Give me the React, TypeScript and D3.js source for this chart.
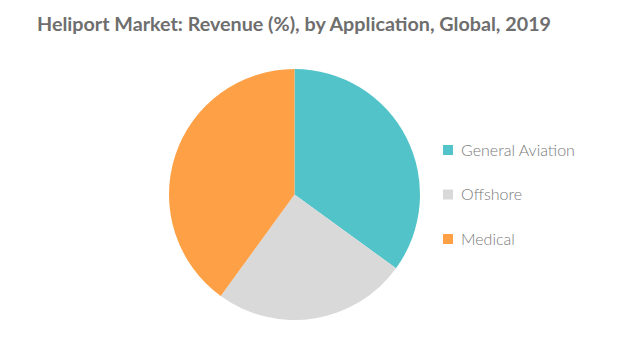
import { useEffect, useRef } from 'react';
import * as d3 from 'd3';

const categories = ['General Aviation', 'Offshore', 'Medical'];
const shares = [35, 25, 40];
const colors = ['#52c4c9', '#d9d9d9', '#fea046'];

const title = 'Heliport Market: Revenue (%), by Application, Global, 2019';

export default function App() {
  const svgRef = useRef<SVGSVGElement>(null);
  const width = 617;
  const height = 353;

  useEffect(() => {
    if (!svgRef.current) return;
    const svg = d3.select(svgRef.current);
    svg.selectAll('*').remove();

    svg.append('rect').attr('width', width).attr('height', height).attr('fill', '#ffffff');

    svg.append('text')
      .attr('x', 37)
      .attr('y', 31)
      .attr('textLength', 514)
      .attr('lengthAdjust', 'spacingAndGlyphs')
      .text(title)
      .style('font-family', 'Lato, "Open Sans", sans-serif')
      .style('font-size', '19px')
      .style('font-weight', '700')
      .style('fill', '#6e6e6e');

    const data = categories.map((c, i) => ({ name: c, value: shares[i] }));
    const pie = d3.pie<{ name: string; value: number }>()
      .value(d => d.value)
      .sort(null);
    const arc = d3.arc<d3.PieArcDatum<{ name: string; value: number }>>()
      .innerRadius(0)
      .outerRadius(125.5);

    const color = d3.scaleOrdinal<string>().domain(categories).range(colors);

    const g = svg.append('g').attr('transform', 'translate(294.5,194.5)');
    g.selectAll('path')
      .data(pie(data))
      .enter()
      .append('path')
      .attr('d', arc)
      .attr('fill', d => color(d.data.name));

    const legendY = d3.scalePoint<string>().domain(categories).range([150, 239]);
    const legend = svg.append('g');
    categories.forEach(c => {
      const y = legendY(c)!;
      legend.append('rect')
        .attr('x', 443)
        .attr('y', y - 5)
        .attr('width', 10)
        .attr('height', 10)
        .attr('fill', color(c));
      legend.append('text')
        .attr('x', 461)
        .attr('y', y + 5.5)
        .text(c)
        .style('font-family', 'Lato, "Open Sans", sans-serif')
        .style('font-size', '16px')
        .style('font-weight', '300')
        .style('fill', '#7a7a7a');
    });
  }, []);

  return (
    <svg
      ref={svgRef}
      width={width}
      height={height}
      style={{ position: 'absolute', left: 0, top: 0, display: 'block' }}
    />
  );
}
